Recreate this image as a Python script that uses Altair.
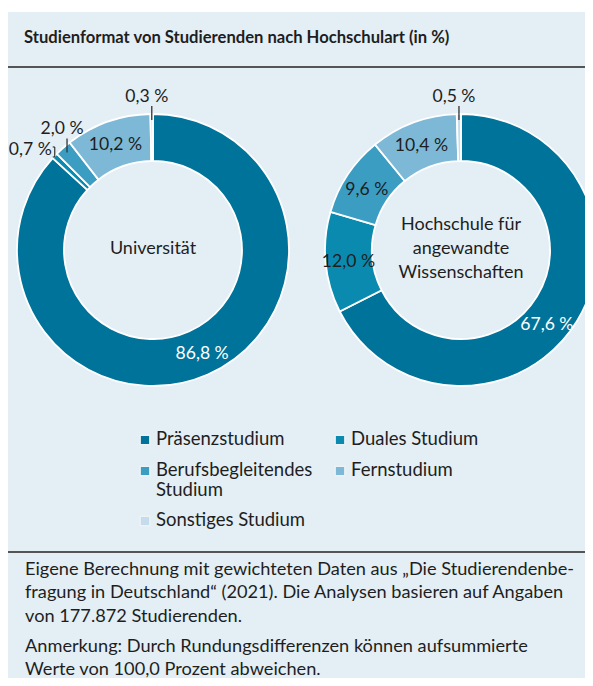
import altair as alt
import pandas as pd
import numpy as np

# ---------------- data ----------------
categories = ["Präsenzstudium", "Duales Studium", "Berufsbegleitendes Studium",
              "Fernstudium", "Sonstiges Studium"]
legend_labels = ["Präsenzstudium", "Duales Studium", "Berufsbegleitendes\nStudium",
                 "Fernstudium", "Sonstiges Studium"]
uni_values = [86.8, 0.7, 2.0, 10.2, 0.3]
haw_values = [67.6, 12.0, 9.6, 10.4, 0.5]
uni_name = "Universität"
haw_name = "Hochschule für\nangewandte\nWissenschaften"
title_text = "Studienformat von Studierenden nach Hochschulart (in %)"
note_1 = ("Eigene Berechnung mit gewichteten Daten aus „Die Studierendenbe-\n"
          "fragung in Deutschland“ (2021). Die Analysen basieren auf Angaben\n"
          "von 177.872 Studierenden.")
note_2 = ("Anmerkung: Durch Rundungsdifferenzen können aufsummierte\n"
          "Werte von 100,0 Prozent abweichen.")

# ---------------- styles / layout ----------------
colors = ["#00739a", "#0b8ab0", "#3c9dc3", "#7db9d7", "#c4dceb"]
uni_label_style = ["in", "left", "up", "in", "up"]
haw_label_style = ["in", "in", "in", "in", "up"]
uni_label_shift = [-2, 0, 0, 0, 0]   # degrees, label nudge
haw_label_shift = [9, 0, 0, 0, 0]
BG = "#e3eef5"
TXT = "#1e1e1e"
FONT = "Lato"
NUM_SIZE = 17.6
W, H = 577, 670
R_OUT, R_IN = 136, 89
UNI_C = (145, 242)
HAW_C = (453, 242)

color_scale = alt.Scale(domain=categories, range=colors)


def fmt(v):
    return f"{v:.1f}".replace(".", ",") + " %"


def donut_frame(values, styles, shifts, center):
    cx, cy = center
    vals = np.array(values, dtype=float)
    mid = (np.cumsum(vals) - vals / 2) / vals.sum() * 2 * np.pi
    lab = mid + np.radians(shifts)
    df = pd.DataFrame({"cat": categories, "value": vals, "order": range(len(vals)),
                       "style": styles, "label": [fmt(v) for v in vals]})
    df["ix"] = cx + 113 * np.sin(lab)
    df["iy"] = cy - 113 * np.cos(lab) + 2
    df["bx"] = cx + 130 * np.sin(mid)
    df["by"] = cy - 130 * np.cos(mid)
    df["ex"] = cx + R_OUT * np.sin(mid)
    df["ey"] = cy - R_OUT * np.cos(mid)
    df["white"] = df["order"] == 0
    return df


def donut(values, styles, shifts, center, name):
    df = donut_frame(values, styles, shifts, center)
    cx, cy = center
    arc = alt.Chart(df).mark_arc(innerRadius=R_IN, outerRadius=R_OUT, stroke="white",
                                 strokeWidth=1.8).encode(
        theta=alt.Theta("value:Q", stack=True),
        color=alt.Color("cat:N", scale=color_scale, legend=None),
        order=alt.Order("order:Q"),
        x=alt.value(cx), y=alt.value(cy),
    )
    inside = alt.Chart(df).transform_filter("datum.style == 'in'").mark_text(
        font=FONT, fontSize=NUM_SIZE, baseline="middle", align="center").encode(
        x=alt.X("ix:Q", scale=None, axis=None),
        y=alt.Y("iy:Q", scale=None, axis=None),
        text="label:N",
        color=alt.condition("datum.white", alt.value("white"), alt.value(TXT)),
    )
    up = alt.Chart(df).transform_filter("datum.style == 'up'").transform_calculate(
        ty="datum.by - 14", lx="datum.bx - 5", ly="datum.by - 23")
    up_rule = up.mark_rule(color="#333333", strokeWidth=1.3).encode(
        x=alt.X("bx:Q", scale=None, axis=None),
        y=alt.Y("by:Q", scale=None, axis=None),
        y2="ty:Q",
    )
    up_text = up.mark_text(font=FONT, fontSize=NUM_SIZE, baseline="middle",
                           align="center", color=TXT).encode(
        x=alt.X("lx:Q", scale=None, axis=None),
        y=alt.Y("ly:Q", scale=None, axis=None),
        text="label:N",
    )
    left = alt.Chart(df).transform_filter("datum.style == 'left'").transform_calculate(
        x0="datum.ex", x1="datum.ex - 2", y0="datum.ey - 9", y1="datum.ey + 1",
        lx="datum.ex - 3", ly="datum.ey - 6")
    left_v = left.mark_rule(color="#333333", strokeWidth=1.2).encode(
        x=alt.X("x0:Q", scale=None, axis=None),
        y=alt.Y("y0:Q", scale=None, axis=None), y2="y1:Q")
    left_t1 = left.mark_rule(color="#333333", strokeWidth=1.2).encode(
        x=alt.X("x1:Q", scale=None, axis=None), x2="x0:Q",
        y=alt.Y("y0:Q", scale=None, axis=None))
    left_t2 = left.mark_rule(color="#333333", strokeWidth=1.2).encode(
        x=alt.X("x1:Q", scale=None, axis=None), x2="x0:Q",
        y=alt.Y("y1:Q", scale=None, axis=None))
    left_text = left.mark_text(font=FONT, fontSize=NUM_SIZE, baseline="middle",
                               align="right", color=TXT).encode(
        x=alt.X("lx:Q", scale=None, axis=None),
        y=alt.Y("ly:Q", scale=None, axis=None),
        text="label:N",
    )
    nlines = name.count("\n") + 1
    center_text = alt.Chart(pd.DataFrame({"t": [name]})).mark_text(
        font=FONT, fontSize=18, align="center", baseline="line-top", lineHeight=24,
        lineBreak="\n", color=TXT).encode(
        x=alt.value(cx), y=alt.value(cy - 12 * nlines - 1), text="t:N")
    return alt.layer(arc, inside, up_rule, up_text, left_v, left_t1, left_t2,
                     left_text, center_text)


one = pd.DataFrame({"a": [0]})

bg = alt.Chart(one).mark_rect(color=BG).encode(
    x=alt.value(0), x2=alt.value(W), y=alt.value(4), y2=alt.value(H))

title = alt.Chart(pd.DataFrame({"t": [title_text]})).mark_text(
    font=FONT, fontSize=16.6, fontWeight="bold", align="left", baseline="middle",
    color=TXT).encode(x=alt.value(16), y=alt.value(30), text="t:N")

line1 = alt.Chart(one).mark_rule(color="#555555", strokeWidth=2).encode(
    x=alt.value(0), x2=alt.value(W), y=alt.value(59))
line2 = alt.Chart(one).mark_rule(color="#555555", strokeWidth=2).encode(
    x=alt.value(0), x2=alt.value(W), y=alt.value(544))

# legend (2 columns, custom rows)
leg_col_x = [137, 332]
leg_row_y = [432, 463, 513]
leg = pd.DataFrame({"cat": categories, "label": legend_labels})
leg["sx"] = [leg_col_x[i % 2] for i in range(len(leg))]
leg["sy"] = [leg_row_y[i // 2] for i in range(len(leg))]
leg["tx"] = leg["sx"] + 11
leg["ty"] = leg["sy"] - 10
leg_sq = alt.Chart(leg).mark_square(size=95, opacity=1, stroke="#edf2f5",
                                    strokeWidth=1.5).encode(
    x=alt.X("sx:Q", scale=None, axis=None),
    y=alt.Y("sy:Q", scale=None, axis=None),
    color=alt.Color("cat:N", scale=color_scale, legend=None),
)
leg_txt = alt.Chart(leg).mark_text(font=FONT, fontSize=18.5, align="left",
                                   baseline="line-top", lineHeight=20, lineBreak="\n",
                                   color=TXT).encode(
    x=alt.X("tx:Q", scale=None, axis=None),
    y=alt.Y("ty:Q", scale=None, axis=None),
    text="label:N",
)

notes = alt.Chart(pd.DataFrame({"t": [note_1, note_2], "y": [549.5, 626.5]})).mark_text(
    font=FONT, fontSize=18.2, align="left", baseline="line-top", lineHeight=23.5,
    lineBreak="\n", color=TXT).encode(
    x=alt.value(17), y=alt.Y("y:Q", scale=None, axis=None), text="t:N")

uni = donut(uni_values, uni_label_style, uni_label_shift, UNI_C, uni_name)
haw = donut(haw_values, haw_label_style, haw_label_shift, HAW_C, haw_name)

chart = alt.layer(bg, title, line1, line2, uni, haw, leg_sq, leg_txt, notes).resolve_scale(
    theta="independent"
).properties(
    width=W, height=H, padding=0, autosize=alt.AutoSizeParams(type="none"),
    background="white",
).configure_view(stroke=None)

chart.save("out.html", embed_options={"renderer": "svg", "actions": False})
